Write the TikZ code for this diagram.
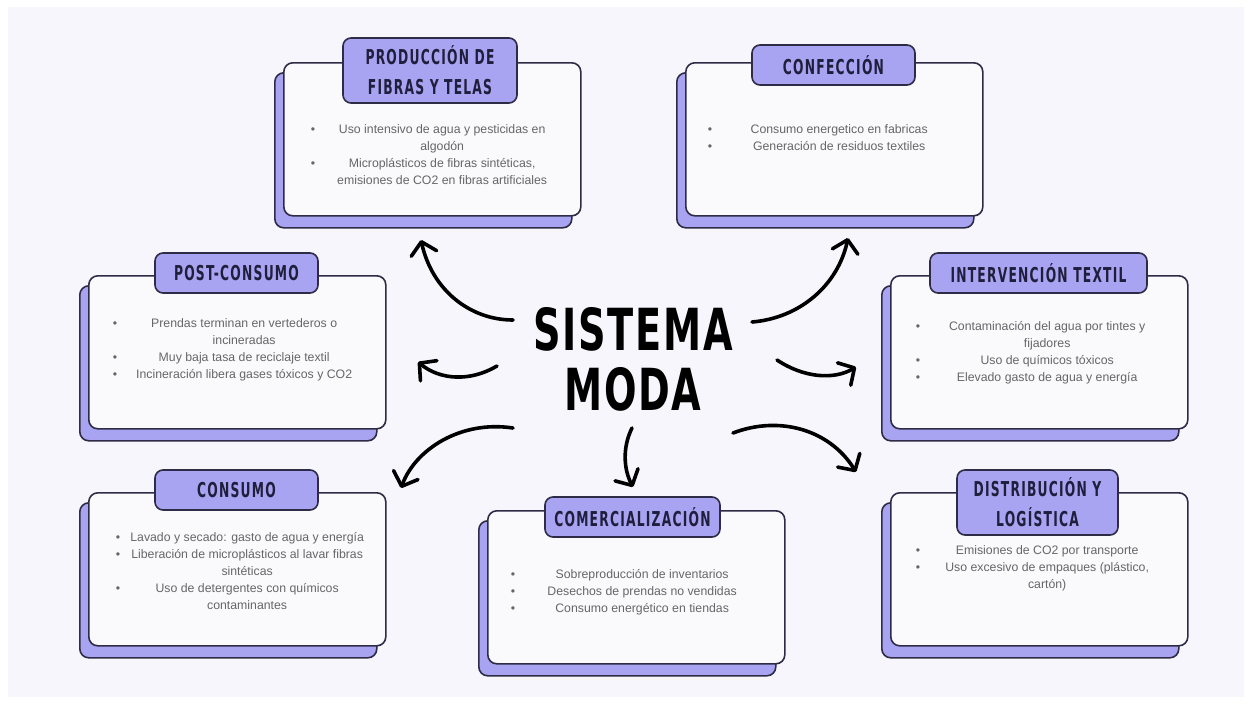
\documentclass[tikz,border=0pt]{standalone}
\usepackage{fontspec}
\usepackage{array}
\setmainfont{Liberation Sans}
\newfontfamily\headfont{DejaVu Sans}[FakeStretch=0.6, LetterSpace=6]
\newfontfamily\bigfont{DejaVu Sans}[FakeStretch=0.66, LetterSpace=3]
\usetikzlibrary{arrows.meta}

\definecolor{bgpage}{HTML}{F7F6FD}
\definecolor{cardfill}{HTML}{FAFAFD}
\definecolor{lavender}{HTML}{A9A4F1}
\definecolor{inkline}{HTML}{2D2B45}
\definecolor{headtext}{HTML}{1F1E3C}
\definecolor{bodytext}{HTML}{666666}

\renewcommand{\arraystretch}{1.214}
\newcommand{\bodyw}{230pt}
\newcommand{\bitem}[1]{\textbullet & \makebox[\bodyw]{#1}\\}
\newcommand{\bline}[1]{& \makebox[\bodyw]{#1}\\}

\begin{document}
\begin{tikzpicture}[x=1pt,y=-1pt,
  shadowcard/.style={draw=inkline, fill=lavender, line width=1.6pt, rounded corners=9pt,
    minimum width=297pt, minimum height=155pt, inner sep=0, anchor=north west},
  card/.style={draw=inkline, fill=cardfill, line width=1.6pt, rounded corners=9pt,
    minimum width=297pt, minimum height=153pt, inner sep=0, anchor=north west},
  tab/.style={draw=inkline, fill=lavender, line width=1.6pt, rounded corners=8pt,
    inner sep=0, text=headtext, align=center,
    font=\headfont\bfseries\fontsize{20.5}{30}\selectfont},
  body/.style={inner sep=0, text=bodytext, font=\fontsize{12.3}{14}\selectfont},
  arrow/.style={line width=3.6pt, line cap=round,
    -{Straight Barb[round, length=12pt, width=26pt]}}]
\useasboundingbox (0,0) rectangle (1252,704);
\fill[white] (0,0) rectangle (1252,704);
\fill[bgpage] (8,7) rectangle (1244,697);

% cards with their shadow behind
\foreach \n/\xa/\ya in {prod/283/62, conf/685/62, post/88/275, inter/890/275,
                        cons/88/492, comer/487/510, dist/890/492}{
  \node[shadowcard] (\n-shadow) at (\xa-9,\ya+10) {};
  \node[card] (\n-card) at (\xa,\ya) {};
}

% title tabs
\node[tab, minimum width=174pt, minimum height=65pt] (prodtab) at (430,70.5) {PRODUCCIÓN DE\\FIBRAS Y TELAS};
\node[tab, minimum width=163pt, minimum height=40pt] (conftab) at (833.5,65) {CONFECCIÓN};
\node[tab, minimum width=163pt, minimum height=40pt] (posttab) at (236.5,273) {POST-CONSUMO};
\node[tab, minimum width=217pt, minimum height=40pt] (intertab) at (1038.5,273) {INTERVENCIÓN TEXTIL};
\node[tab, minimum width=163pt, minimum height=40pt] (constab) at (236.5,490) {CONSUMO};
\node[tab, minimum width=175pt, minimum height=40pt] (comertab) at (632.5,517) {COMERCIALIZACIÓN};
\node[tab, minimum width=161pt, minimum height=65pt] (disttab) at (1037.5,502.5) {DISTRIBUCIÓN Y\\LOGÍSTICA};

% bullet lists
\node[body] (prodtxt) at (434,156) {\begin{tabular}{@{}c@{\hspace{12pt}}c@{}}
  \bitem{Uso intensivo de agua y pesticidas en}
  \bline{algodón}
  \bitem{Microplásticos de fibras sintéticas,}
  \bline{emisiones de CO2 en fibras artificiales}
\end{tabular}};
\node[body] (conftxt) at (831,138.5) {\begin{tabular}{@{}c@{\hspace{12pt}}c@{}}
  \bitem{Consumo energetico en fabricas}
  \bitem{Generación de residuos textiles}
\end{tabular}};
\node[body] (posttxt) at (236,349.5) {\begin{tabular}{@{}c@{\hspace{12pt}}c@{}}
  \bitem{Prendas terminan en vertederos o}
  \bline{incineradas}
  \bitem{Muy baja tasa de reciclaje textil}
  \bitem{Incineración libera gases tóxicos y CO2}
\end{tabular}};
\node[body] (intertxt) at (1039,352.5) {\begin{tabular}{@{}c@{\hspace{12pt}}c@{}}
  \bitem{Contaminación del agua por tintes y}
  \bline{fijadores}
  \bitem{Uso de químicos tóxicos}
  \bitem{Elevado gasto de agua y energía}
\end{tabular}};
\node[body] (constxt) at (239,572.5) {\begin{tabular}{@{}c@{\hspace{12pt}}c@{}}
  \bitem{Lavado y secado: gasto de agua y energía}
  \bitem{Liberación de microplásticos al lavar fibras}
  \bline{sintéticas}
  \bitem{Uso de detergentes con químicos}
  \bline{contaminantes}
\end{tabular}};
\node[body] (comertxt) at (634,592.5) {\begin{tabular}{@{}c@{\hspace{12pt}}c@{}}
  \bitem{Sobreproducción de inventarios}
  \bitem{Desechos de prendas no vendidas}
  \bitem{Consumo energético en tiendas}
\end{tabular}};
\node[body] (disttxt) at (1039,568.5) {\begin{tabular}{@{}c@{\hspace{12pt}}c@{}}
  \bitem{Emisiones de CO2 por transporte}
  \bitem{Uso excesivo de empaques (plástico,}
  \bline{cartón)}
\end{tabular}};

% centre title
\node[inner sep=0, align=center, font=\bigfont\bfseries\fontsize{58}{60}\selectfont] (sistema) at (633,359) {SISTEMA\\MODA};

% arrow ends
\coordinate (s1) at (513,320);  \coordinate (e1) at (421,240);
\coordinate (s2) at (752,322);  \coordinate (e2) at (848,238);
\coordinate (s3) at (497,366);  \coordinate (e3) at (418,362);
\coordinate (s4) at (777,360);  \coordinate (e4) at (856,367);
\coordinate (s5) at (513,428);  \coordinate (e5) at (401,488);
\coordinate (s6) at (632,428);  \coordinate (e6) at (633,487);
\coordinate (s7) at (733,433);  \coordinate (e7) at (856,472);

\draw[arrow] (s1) .. controls (470,320) and (432,290) .. (e1);
\draw[arrow] (s2) .. controls (800,318) and (838,285) .. (e2);
\draw[arrow] (s3) .. controls (470,382) and (440,380) .. (e3);
\draw[arrow] (s4) .. controls (804,378) and (834,380) .. (e4);
\draw[arrow] (s5) .. controls (460,420) and (415,450) .. (e5);
\draw[arrow] (s6) .. controls (622,448) and (624,470) .. (e6);
\draw[arrow] (s7) .. controls (780,415) and (830,430) .. (e7);
\end{tikzpicture}
\end{document}
